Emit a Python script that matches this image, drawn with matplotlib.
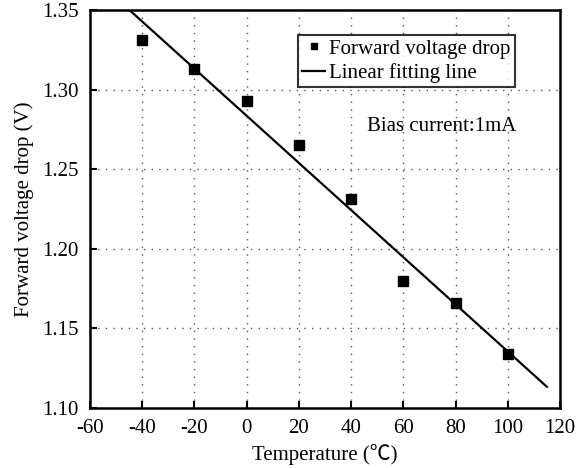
import numpy as np
import matplotlib
matplotlib.use("Agg")
import matplotlib.pyplot as plt

temps = [-40, -20, 0, 20, 40, 60, 80, 100]
vdrop = [1.331, 1.313, 1.293, 1.265, 1.231, 1.180, 1.166, 1.134]
xticks = [-60, -40, -20, 0, 20, 40, 60, 80, 100, 120]
yticks = [1.10, 1.15, 1.20, 1.25, 1.30, 1.35]

plt.rcParams['font.family'] = ['Liberation Serif', 'DejaVu Serif', 'Noto Sans CJK SC']
plt.rcParams['mathtext.fontset'] = 'stix'

fig = plt.figure(figsize=(5.8, 4.68), dpi=100)
L, R, T, B = 90, 560, 10, 408
ax = fig.add_axes([L/580, 1-B/468, (R-L)/580, (B-T)/468])

slope, intercept = np.polyfit(temps, vdrop, 1)
xl = np.array([-60, 115])
ax.plot(xl, slope*xl + intercept, color='black', lw=1.6, label='Linear fitting line', zorder=3)
ax.plot(temps, vdrop, 's', color='black', ms=6.5, ls='none', label='Forward voltage drop', zorder=4)

ax.set_xlim(-60, 120)
ax.set_ylim(1.10, 1.35)
ax.set_xticks(xticks)
ax.set_yticks(yticks)
ax.set_xticklabels([str(t) for t in xticks])
ax.set_yticklabels([f"{t:.2f}" for t in yticks])
ax.tick_params(direction='in', length=5, width=1.5, labelsize=15)
ax.tick_params(axis='x', pad=8)
ax.tick_params(axis='y', pad=8)
for s in ax.spines.values():
    s.set_linewidth(1.8)
ax.grid(True, color='#555555', linestyle=(0, (1, 4.5)), linewidth=1)

ax.set_xlabel('Temperature (℃)', fontsize=15, labelpad=4,
              family=['Liberation Serif', 'Noto Sans CJK SC'])
ax.set_ylabel('Forward voltage drop (V)', fontsize=15, labelpad=6)

h, l = ax.get_legend_handles_labels()
leg = ax.legend([h[1], h[0]], [l[1], l[0]], loc='upper left',
                bbox_to_anchor=((298-L)/(R-L), 1-(35-T)/(B-T)), borderaxespad=0,
                fontsize=15, frameon=True, fancybox=False, handlelength=1.1,
                handletextpad=0.2, borderpad=0.2, labelspacing=0.2, markerscale=0.75)
leg.get_frame().set_edgecolor('black')
leg.get_frame().set_linewidth(1.5)

ax.text(46, 1.277, 'Bias current:1mA', fontsize=15, va='center', ha='left')

fig.savefig('out.png', dpi=100)
